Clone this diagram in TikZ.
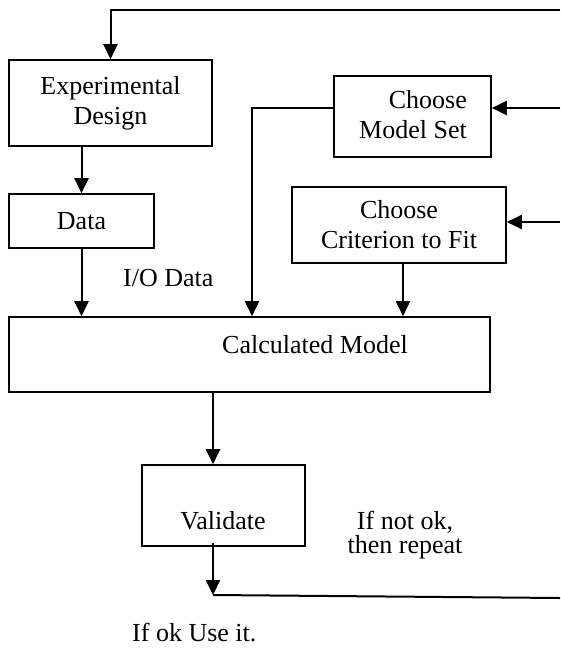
\documentclass[tikz,border=0pt]{standalone}
\usepackage{fontspec}
\setmainfont{Liberation Serif}
\usetikzlibrary{arrows.meta}

\tikzset{
  box/.style = {draw, line width=1.6pt, inner sep=0pt, align=center},
  flow/.style = {line width=2pt, -{Triangle[length=15pt,width=14pt]}},
  lbl/.style = {inner sep=0pt, align=center}
}

\begin{document}
\begin{tikzpicture}[x=1pt, y=-1pt, font=\fontsize{26}{30}\selectfont]
	\useasboundingbox (0,0) rectangle (560,648);
	% boxes
	\node[box, minimum width=203pt, minimum height=86pt] (ed) at (110.5,103) {Experimental\\Design};
	\node[box, minimum width=145pt, minimum height=54pt] (data) at (81.5,221) {Data};
	\node[box, minimum width=157pt, minimum height=81pt] (cms) at (412.5,116.5) {};
	\node[box, minimum width=214pt, minimum height=76pt] (cc) at (399,225) {Choose\\Criterion to Fit};
	\node[box, minimum width=481pt, minimum height=75pt] (cm) at (249.5,354.5) {};
	\node[box, minimum width=163pt, minimum height=81pt] (val) at (223.5,505.5) {};
	% texts
	\node[lbl, anchor=east, align=right] (cmstext) at (467,115) {Choose\\Model Set};
	\node[lbl, anchor=base east] (cmtext) at (408,353) {Calculated Model};
	\node[lbl, anchor=base] (valtext) at (223,529) {Validate};
	\node[lbl, anchor=base west] (io) at (123,286) {I/O Data};
	\node[lbl, anchor=north, font=\fontsize{26}{24}\selectfont] (notok) at (405,511) {If not ok,\\then repeat};
	\node[lbl, anchor=base west] (okuse) at (132,641) {If ok Use it.};
	% connectors
	\coordinate (topR) at (560,9.5);
	\coordinate (msR) at (560,108);
	\coordinate (ccR) at (560,222);
	\coordinate (msx) at (252,0);
	\coordinate (ccx) at (403,0);
	\coordinate (vx) at (213,0);
	\coordinate (ok) at (213,595);
	\coordinate (backR) at (560,598);
	\draw[flow] (topR) -| (ed.north);
	\draw[flow] (ed.south -| data.north) -- (data.north);
	\draw[flow] (data.south) -- (data.south |- cm.north);
	\draw[flow] (msR) -- (msR -| cms.east);
	\draw[flow] (msR -| cms.west) -| (msx |- cm.north);
	\draw[flow] (ccR) -- (ccR -| cc.east);
	\draw[flow] (ccx |- cc.south) -- (ccx |- cm.north);
	\draw[flow] (vx |- cm.south) -- (vx |- val.north);
	\draw[flow] (vx |- val.south) ++(0,-4) -- (ok);
	\draw[line width=2pt] (ok) -- (backR);
\end{tikzpicture}
\end{document}
